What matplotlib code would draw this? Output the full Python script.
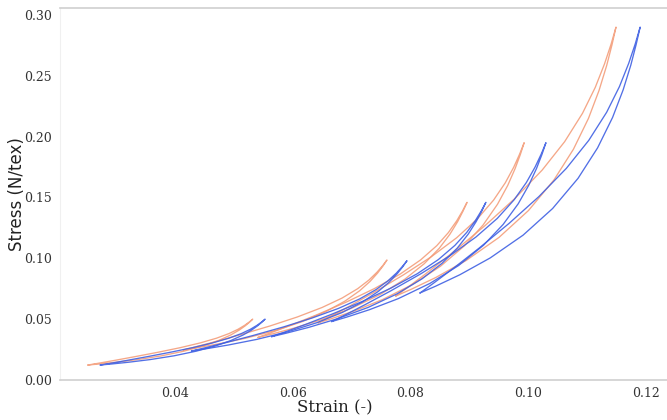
import matplotlib
matplotlib.use("Agg")
import matplotlib.pyplot as plt

# ---- data: 5 hysteresis loops per sample ----
# Each loop: loading branch and unloading branch, both listed tip -> peak
blue_strain_load = [
    [0.0273, 0.02917, 0.03208, 0.03575, 0.03983, 0.04358, 0.04690, 0.04951, 0.05154, 0.05298, 0.05402, 0.05475, 0.0553],
    [0.0428, 0.04524, 0.04905, 0.05386, 0.05919, 0.06409, 0.06843, 0.07184, 0.07449, 0.07637, 0.07773, 0.07868, 0.0794],
    [0.0564, 0.05885, 0.06267, 0.06748, 0.07280, 0.07768, 0.08198, 0.08535, 0.08796, 0.08981, 0.09115, 0.09209, 0.0928],
    [0.0666, 0.06911, 0.07302, 0.07792, 0.08329, 0.08817, 0.09242, 0.09573, 0.09829, 0.10009, 0.10140, 0.10231, 0.1030],
    [0.0816, 0.08425, 0.08838, 0.09353, 0.09912, 0.10413, 0.10845, 0.11177, 0.11432, 0.11611, 0.11741, 0.11831, 0.1190],
]
blue_stress_load = [
    [0.0123, 0.01313, 0.01458, 0.01676, 0.01988, 0.02366, 0.02803, 0.03248, 0.03693, 0.04093, 0.04450, 0.04745, 0.0500],
    [0.0238, 0.02563, 0.02875, 0.03334, 0.03965, 0.04708, 0.05554, 0.06411, 0.07267, 0.08040, 0.08731, 0.09305, 0.0980],
    [0.0356, 0.03841, 0.04319, 0.05017, 0.05965, 0.07070, 0.08322, 0.09587, 0.10851, 0.11994, 0.13017, 0.13866, 0.1460],
    [0.0480, 0.05161, 0.05777, 0.06686, 0.07936, 0.09408, 0.11085, 0.12784, 0.14480, 0.16013, 0.17383, 0.18519, 0.1950],
    [0.0715, 0.07706, 0.08650, 0.10030, 0.11904, 0.14091, 0.16571, 0.19075, 0.21579, 0.23842, 0.25867, 0.27548, 0.2900],
]
blue_strain_unload = [
    [0.0273, 0.02905, 0.03178, 0.03528, 0.03924, 0.04300, 0.04641, 0.04914, 0.05129, 0.05282, 0.05393, 0.05471, 0.0553],
    [0.0428, 0.04508, 0.04866, 0.05322, 0.05840, 0.06331, 0.06777, 0.07135, 0.07416, 0.07616, 0.07761, 0.07862, 0.0794],
    [0.0564, 0.05865, 0.06217, 0.06668, 0.07182, 0.07670, 0.08115, 0.08473, 0.08754, 0.08955, 0.09100, 0.09202, 0.0928],
    [0.0666, 0.06879, 0.07222, 0.07664, 0.08172, 0.08661, 0.09110, 0.09474, 0.09761, 0.09967, 0.10116, 0.10220, 0.1030],
    [0.0816, 0.08377, 0.08719, 0.09162, 0.09677, 0.10179, 0.10647, 0.11028, 0.11331, 0.11548, 0.11705, 0.11816, 0.1190],
]
blue_stress_unload = [
    [0.0123, 0.01373, 0.01606, 0.01916, 0.02282, 0.02658, 0.03051, 0.03434, 0.03819, 0.04173, 0.04494, 0.04765, 0.0500],
    [0.0238, 0.02643, 0.03073, 0.03652, 0.04357, 0.05098, 0.05884, 0.06659, 0.07435, 0.08146, 0.08791, 0.09331, 0.0980],
    [0.0356, 0.03941, 0.04567, 0.05415, 0.06455, 0.07558, 0.08734, 0.09897, 0.11063, 0.12128, 0.13091, 0.13898, 0.1460],
    [0.0480, 0.05321, 0.06175, 0.07324, 0.08720, 0.10188, 0.11745, 0.13280, 0.14818, 0.16225, 0.17501, 0.18570, 0.1950],
    [0.0715, 0.07906, 0.09146, 0.10826, 0.12884, 0.15067, 0.17395, 0.19697, 0.22001, 0.24108, 0.26015, 0.27612, 0.2900],
]

orange_strain_load = [
    [0.0252, 0.02707, 0.02998, 0.03365, 0.03773, 0.04148, 0.04480, 0.04741, 0.04944, 0.05088, 0.05192, 0.05265, 0.0532],
    [0.0414, 0.04371, 0.04732, 0.05187, 0.05691, 0.06155, 0.06565, 0.06887, 0.07137, 0.07314, 0.07442, 0.07532, 0.0760],
    [0.0541, 0.05649, 0.06022, 0.06491, 0.07010, 0.07486, 0.07905, 0.08234, 0.08489, 0.08669, 0.08800, 0.08890, 0.0896],
    [0.0643, 0.06672, 0.07049, 0.07521, 0.08038, 0.08507, 0.08916, 0.09233, 0.09478, 0.09651, 0.09776, 0.09864, 0.0993],
    [0.0775, 0.08015, 0.08428, 0.08943, 0.09502, 0.10003, 0.10435, 0.10767, 0.11022, 0.11201, 0.11331, 0.11421, 0.1149],
]
orange_stress_load = [
    [0.0123, 0.01313, 0.01458, 0.01676, 0.01988, 0.02366, 0.02803, 0.03248, 0.03693, 0.04093, 0.04450, 0.04745, 0.0500],
    [0.0247, 0.02652, 0.02962, 0.03420, 0.04048, 0.04788, 0.05631, 0.06484, 0.07337, 0.08107, 0.08795, 0.09367, 0.0986],
    [0.0350, 0.03783, 0.04264, 0.04966, 0.05919, 0.07030, 0.08289, 0.09561, 0.10831, 0.11980, 0.13009, 0.13863, 0.1460],
    [0.0470, 0.05064, 0.05685, 0.06601, 0.07860, 0.09342, 0.11030, 0.12740, 0.14447, 0.15990, 0.17369, 0.18512, 0.1950],
    [0.0690, 0.07463, 0.08420, 0.09817, 0.11714, 0.13926, 0.16433, 0.18965, 0.21496, 0.23784, 0.25832, 0.27532, 0.2900],
]
orange_strain_unload = [
    [0.0252, 0.02695, 0.02968, 0.03318, 0.03714, 0.04090, 0.04431, 0.04704, 0.04919, 0.05072, 0.05183, 0.05261, 0.0532],
    [0.0414, 0.04355, 0.04692, 0.05123, 0.05613, 0.06077, 0.06499, 0.06837, 0.07103, 0.07293, 0.07430, 0.07527, 0.0760],
    [0.0541, 0.05629, 0.05972, 0.06412, 0.06912, 0.07389, 0.07823, 0.08172, 0.08447, 0.08643, 0.08785, 0.08884, 0.0896],
    [0.0643, 0.06640, 0.06969, 0.07393, 0.07881, 0.08351, 0.08784, 0.09134, 0.09411, 0.09609, 0.09753, 0.09853, 0.0993],
    [0.0775, 0.07967, 0.08309, 0.08752, 0.09267, 0.09769, 0.10237, 0.10618, 0.10921, 0.11138, 0.11295, 0.11406, 0.1149],
]
orange_stress_unload = [
    [0.0123, 0.01373, 0.01606, 0.01916, 0.02282, 0.02658, 0.03051, 0.03434, 0.03819, 0.04173, 0.04494, 0.04765, 0.0500],
    [0.0247, 0.02732, 0.03160, 0.03738, 0.04440, 0.05178, 0.05961, 0.06732, 0.07505, 0.08213, 0.08855, 0.09393, 0.0986],
    [0.0350, 0.03883, 0.04512, 0.05364, 0.06409, 0.07518, 0.08701, 0.09871, 0.11043, 0.12114, 0.13083, 0.13895, 0.1460],
    [0.0470, 0.05224, 0.06083, 0.07239, 0.08644, 0.10122, 0.11690, 0.13236, 0.14785, 0.16202, 0.17487, 0.18564, 0.1950],
    [0.0690, 0.07663, 0.08916, 0.10613, 0.12694, 0.14902, 0.17257, 0.19587, 0.21918, 0.24050, 0.25980, 0.27596, 0.2900],
]

x_ticks = [0.04, 0.06, 0.08, 0.10, 0.12]
y_ticks = [0.00, 0.05, 0.10, 0.15, 0.20, 0.25, 0.30]

ORANGE = "#f39873"
BLUE = "#3f60e3"

fig = plt.figure(figsize=(6.67, 4.20), dpi=100)
ax = fig.add_axes([60 / 667, 1 - 380 / 420, 607 / 667, 372 / 420])


def draw(xl, yl, xu, yu, color, alpha):
    for a, sa, b, sb in zip(xl, yl, xu, yu):
        xs = list(a) + list(b[::-1])
        ys = list(sa) + list(sb[::-1])
        ax.plot(xs, ys, color=color, lw=0.95, alpha=alpha,
                solid_joinstyle="round", solid_capstyle="round")


draw(orange_strain_load, orange_stress_load, orange_strain_unload, orange_stress_unload, ORANGE, 0.85)
draw(blue_strain_load, blue_stress_load, blue_strain_unload, blue_stress_unload, BLUE, 0.9)

ax.set_xlim(0.02047, 0.12356)
ax.set_ylim(0.0, 0.3057)
ax.set_xticks(x_ticks)
ax.set_xticklabels([f"{v:.2f}" for v in x_ticks])
ax.set_yticks(y_ticks)
ax.set_yticklabels([f"{v:.2f}" for v in y_ticks])

for lab in ax.get_xticklabels() + ax.get_yticklabels():
    lab.set_fontfamily("DejaVu Serif")
    lab.set_fontsize(9)
    lab.set_color("#333333")

ax.tick_params(axis="both", length=0, pad=6)
ax.tick_params(axis="x", pad=5)

for side in ["top", "bottom"]:
    ax.spines[side].set_color("#cfcfcf")
    ax.spines[side].set_linewidth(1.2)
ax.spines["left"].set_color("#f0f0f0")
ax.spines["right"].set_visible(False)

ax.set_xlabel("Strain (-)", fontfamily="DejaVu Serif", fontsize=12, color="#222222")
ax.set_ylabel("Stress (N/tex)", fontfamily="DejaVu Sans", fontsize=12, color="#222222")
ax.xaxis.set_label_coords((335 - 60) / 607, -(399 - 380) / 372)
ax.yaxis.set_label_coords((26 - 60) / 607, 0.5)

fig.savefig("out.png", dpi=100)
